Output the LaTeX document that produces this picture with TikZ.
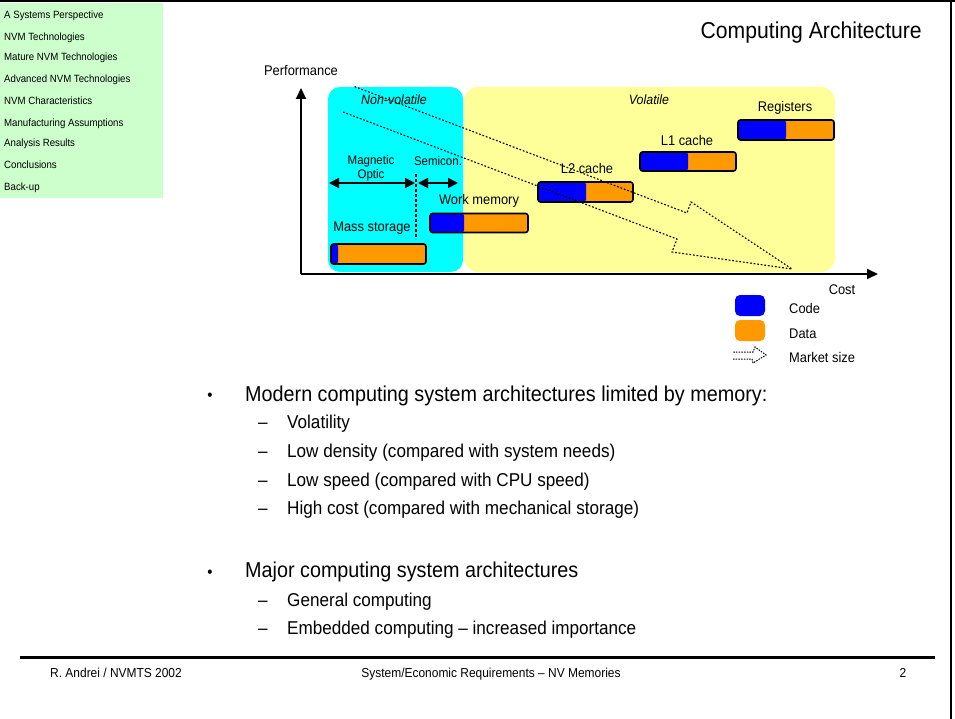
\documentclass[tikz,border=0pt]{standalone}
\usepackage{fontspec}
\setmainfont{Liberation Sans}[FakeStretch=0.92]
\usetikzlibrary{arrows.meta}
\definecolor{navgreen}{HTML}{CCFFCC}
\definecolor{nvcyan}{HTML}{00FFFF}
\definecolor{volyellow}{HTML}{FFFF99}
\definecolor{codeblue}{HTML}{0000FF}
\definecolor{dataorange}{HTML}{FF9900}
\newcommand\fsz[1]{\fontsize{#1}{#1}\selectfont}

\begin{document}
\begin{tikzpicture}[x=1pt,y=-1pt,
  navitem/.style={anchor=base west,inner sep=0pt,font=\fsz{10.5}},
  lbl/.style={inner sep=0pt,font=\fsz{14}},
  smalllbl/.style={inner sep=0pt,font=\fsz{12.5}},
  zonelbl/.style={inner sep=0pt,font=\fsz{13.5}\itshape},
  mainitem/.style={anchor=base west,inner sep=0pt,font=\fsz{21.5}},
  subitem/.style={anchor=base west,inner sep=0pt,font=\fsz{18.6}},
  bulletmark/.style={inner sep=0pt,font=\fsz{16}},
  foot/.style={anchor=base,inner sep=0pt,font=\fsz{13}},
  membar/.style={draw=black,line width=1.6pt,rounded corners=2.5pt,
    fill=dataorange,inner sep=0pt,minimum height=19pt,minimum width=96pt,
    path picture={\fill[codeblue] (path picture bounding box.north west)
      rectangle ([xshift=#1]path picture bounding box.south west);}},
  legbox/.style={inner sep=0pt,minimum width=30pt,minimum height=21pt,rounded corners=5pt},
  axis/.style={line width=2pt,-{Triangle[length=11pt,width=10pt]}},
  span/.style={line width=1.8pt,{Triangle[length=10pt,width=10pt]}-{Triangle[length=10pt,width=10pt]}},
  market/.style={draw=black,line width=1.1pt,dash pattern=on 1.8pt off 1.8pt},
]
\useasboundingbox (0,0) rectangle (955,719);

% slide frame
\draw[line width=2.5pt] (0,1) -- (955,1);
\draw[line width=1.5pt] (951,0) -- (951,719);

% navigation panel
\fill[navgreen] (0,3) rectangle (163,198);
\node[navitem] (nav1) at (4,19)  {A Systems Perspective};
\node[navitem] (nav2) at (4,41)  {NVM Technologies};
\node[navitem] (nav3) at (4,61)  {Mature NVM Technologies};
\node[navitem] (nav4) at (4,83)  {Advanced NVM Technologies};
\node[navitem] (nav5) at (4,105) {NVM Characteristics};
\node[navitem] (nav6) at (4,127) {Manufacturing Assumptions};
\node[navitem] (nav7) at (4,147) {Analysis Results};
\node[navitem] (nav8) at (4,169) {Conclusions};
\node[navitem] (nav9) at (4,191) {Back-up};

% title
\node[anchor=base east,inner sep=0pt,font=\fsz{23}] (title) at (922,39) {Computing Architecture};

% memory zones
\fill[nvcyan,rounded corners=12pt] (328,87) rectangle (463,272);
\fill[volyellow,rounded corners=14pt] (464,87) rectangle (835,272);
\node[zonelbl] (nvlbl) at (394,100) {Non-volatile};
\node[zonelbl] (vlbl) at (649,100) {Volatile};

% axes
\coordinate (origin) at (301,274);
\coordinate (ytop) at (301,88);
\coordinate (xend) at (878,274);
\draw[axis] (origin) -- (ytop);
\draw[axis] (origin) -- (xend);
\node[lbl] (perf) at (301,71) {Performance};
\node[lbl] (cost) at (842,290) {Cost};

% storage technology spans
\node[smalllbl] (magn) at (371,161) {Magnetic};
\node[smalllbl] (opt) at (371,175) {Optic};
\node[smalllbl] (semi) at (438,161) {Semicon.};
\coordinate (magL) at (329,183);
\coordinate (magR) at (415,183);
\coordinate (semL) at (418,183);
\coordinate (semR) at (458,183);
\draw[span] (magL) -- (magR);
\draw[span] (semL) -- (semR);
\coordinate (divtop) at (416,174);
\coordinate (divbot) at (416,239);
\draw[line width=1.3pt,dash pattern=on 3pt off 2pt] (divtop) -- (divbot);

% memory hierarchy bars
\node[membar=7pt,minimum width=95pt,minimum height=20pt] (ms) at (378.5,254) {};
\node[lbl] (mslbl) at (372,228) {Mass storage};
\node[membar=34pt,minimum width=98pt] (wm) at (479,223) {};
\node[lbl] (wmlbl) at (479,201) {Work memory};
\node[membar=48pt,minimum width=95pt,minimum height=20pt] (l2) at (585.5,192) {};
\node[lbl] (l2lbl) at (587,168) {L2 cache};
\node[membar=48pt] (l1) at (688,161.5) {};
\node[lbl] (l1lbl) at (687,140) {L1 cache};
\node[membar=48pt,minimum height=20pt] (rg) at (786,130) {};
\node[lbl] (rglbl) at (785,108) {Registers};

% market size arrow
\coordinate (mtA) at (343,112);
\coordinate (mtB) at (677,239);
\coordinate (mtC) at (672,252);
\coordinate (mtTip) at (792,269);
\coordinate (mtD) at (691,202);
\coordinate (mtE) at (687,213);
\coordinate (mtF) at (353,86);
\draw[market] (mtA) -- (mtB) -- (mtC) -- (mtTip) -- (mtD) -- (mtE) -- (mtF);

% legend
\node[legbox,fill=codeblue] (legcode) at (750,305.5) {};
\node[legbox,fill=dataorange] (legdata) at (750,330.5) {};
\node[lbl,anchor=west] (codelbl) at (789,308) {Code};
\node[lbl,anchor=west] (datalbl) at (789,334) {Data};
\node[lbl,anchor=west] (mktlbl) at (789,357) {Market size};
\coordinate (lgA) at (733,359);
\coordinate (lgB) at (752,359);
\coordinate (lgC) at (753,363);
\coordinate (lgTip) at (766,355);
\coordinate (lgD) at (755,347);
\coordinate (lgE) at (753,352);
\coordinate (lgF) at (733,352);
\draw[market,line width=1pt,dash pattern=on 1.5pt off 1.2pt] (lgA) -- (lgB) -- (lgC) -- (lgTip) -- (lgD) -- (lgE) -- (lgF);

% bullet text
\node[bulletmark] (b1) at (210,397) {\textbullet};
\node[mainitem] (t1) at (245,401) {Modern computing system architectures limited by memory:};
\node[subitem] (d1) at (258,428) {–};
\node[subitem] (s1) at (287,428) {Volatility};
\node[subitem] (d2) at (258,457) {–};
\node[subitem] (s2) at (287,457) {Low density (compared with system needs)};
\node[subitem] (d3) at (258,486) {–};
\node[subitem] (s3) at (287,486) {Low speed (compared with CPU speed)};
\node[subitem] (d4) at (258,514) {–};
\node[subitem] (s4) at (287,514) {High cost (compared with mechanical storage)};
\node[bulletmark] (b2) at (210,574) {\textbullet};
\node[mainitem] (t2) at (245,577) {Major computing system architectures};
\node[subitem] (d5) at (258,606) {–};
\node[subitem] (s5) at (287,606) {General computing};
\node[subitem] (d6) at (258,634) {–};
\node[subitem] (s6) at (287,634) {Embedded computing – increased importance};

% footer
\coordinate (footL) at (20,657);
\coordinate (footR) at (935,657);
\draw[line width=3pt] (footL) -- (footR);
\node[foot,anchor=base west] (author) at (50,677) {R. Andrei / NVMTS 2002};
\node[foot] (subject) at (491,677) {System/Economic Requirements – NV Memories};
\node[foot] (pageno) at (903,677) {2};
\end{tikzpicture}
\end{document}
